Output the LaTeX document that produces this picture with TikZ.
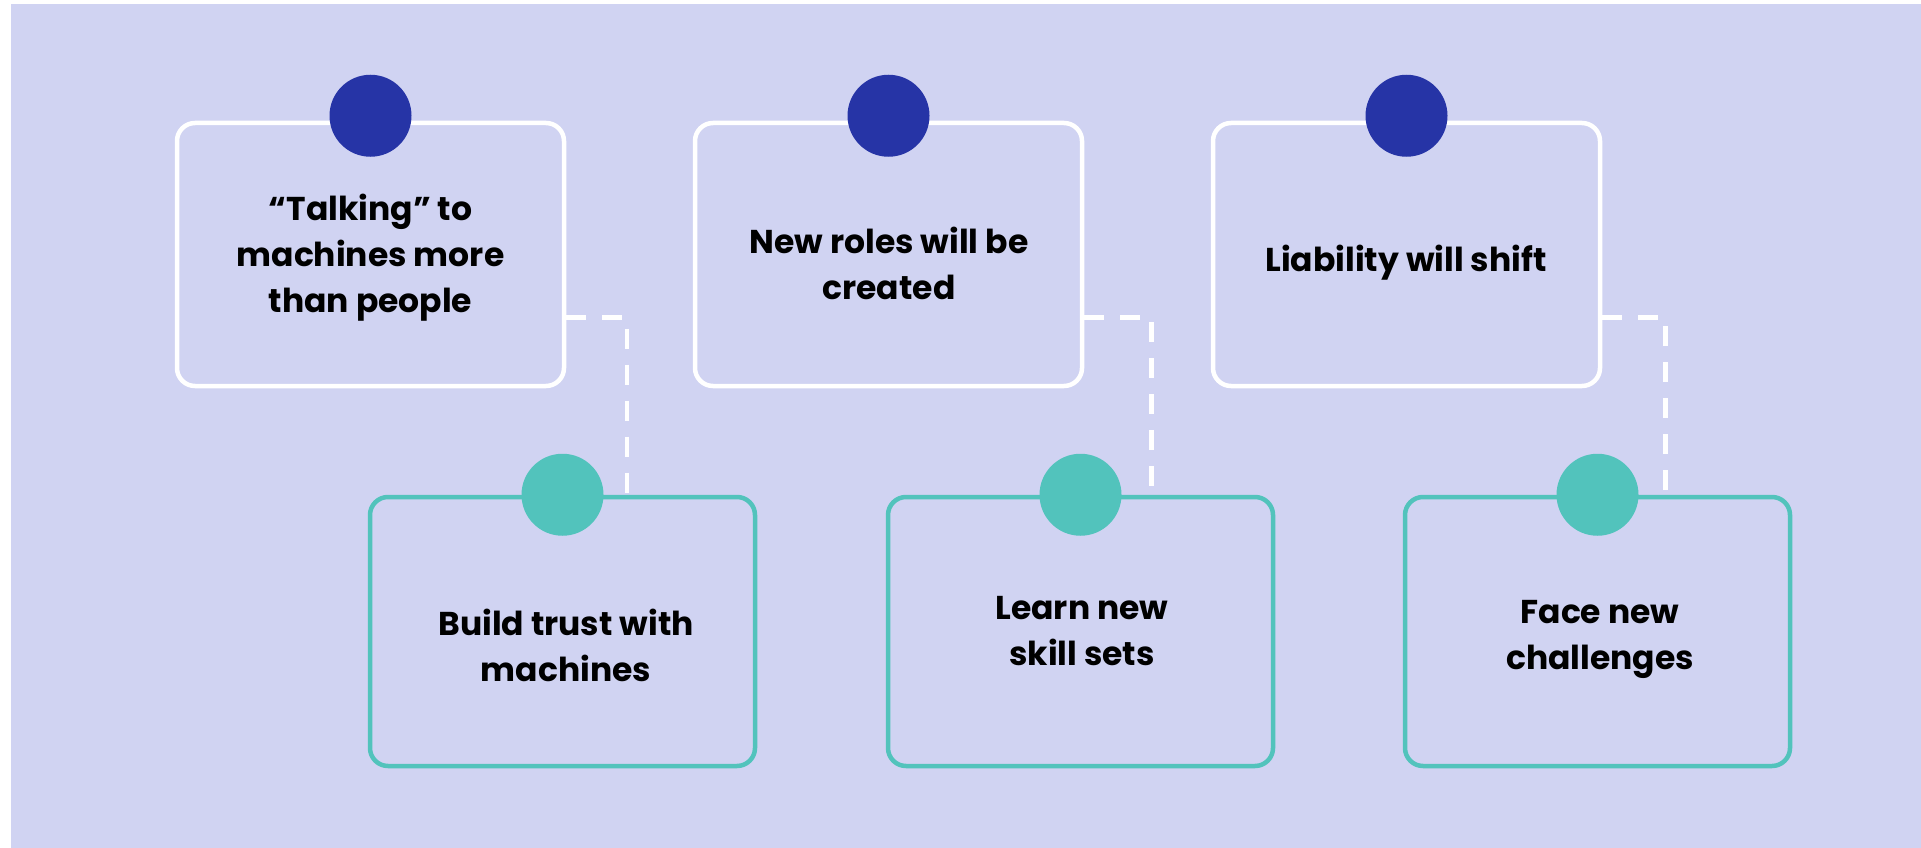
\documentclass[tikz,border=0pt]{standalone}
\usepackage{fontspec}
\setmainfont{Poppins}
\usetikzlibrary{calc}
\definecolor{bgc}{RGB}{208,211,242}
\definecolor{navy}{RGB}{38,52,166}
\definecolor{tealc}{RGB}{82,195,188}
\tikzset{
  topbox/.style={draw=white, line width=4.5pt, rounded corners=18pt, minimum width=387pt, minimum height=263pt, inner sep=0pt},
  botbox/.style={draw=tealc, line width=4.5pt, rounded corners=18pt, minimum width=385pt, minimum height=269pt, inner sep=0pt},
  topdot/.style={circle, fill=navy, minimum size=82pt, inner sep=0pt},
  botdot/.style={circle, fill=tealc, minimum size=82pt, inner sep=0pt},
  lbl/.style={anchor=base, align=center, inner sep=0pt, font=\fontsize{33}{46}\selectfont\bfseries, text=black},
  conn/.style={draw=white, line width=4.5pt, dash pattern=on 20pt off 16pt}
}
\begin{document}
\begin{tikzpicture}[x=1pt,y=-1pt]
\useasboundingbox (0,0) rectangle (1921,848);
\fill[bgc] (11,4) rectangle (1921,848);
% top boxes
\node[topbox] (t1) at (370.5,254.5) {};
\node[topbox] (t2) at (888.5,254.5) {};
\node[topbox] (t3) at (1406.5,254.5) {};
% bottom boxes
\node[botbox] (b1) at (562.5,631.5) {};
\node[botbox] (b2) at (1080.5,631.5) {};
\node[botbox] (b3) at (1597.5,631.5) {};
% connectors
\draw[conn] ($(t1.south east)+(0,-71)$) -| ($(b1.north)+(64.5,0)$);
\draw[conn] ($(t2.south east)+(0,-71)$) -| ($(b2.north)+(71,0)$);
\draw[conn] ($(t3.south east)+(0,-71)$) -| ($(b3.north)+(68,0)$);
% dots
\node[topdot] (c1) at ($(t1.north)+(0,-5)$) {};
\node[topdot] (c2) at ($(t2.north)+(0,-5)$) {};
\node[topdot] (c3) at ($(t3.north)+(0,-5)$) {};
\node[botdot] (d1) at (b1.north) {};
\node[botdot] (d2) at (b2.north) {};
\node[botdot] (d3) at (b3.north) {};
% labels (anchored at the baseline of the last line)
\node[lbl] (l1) at (370.5,312) {“Talking” to\\machines more\\than people};
\node[lbl] (l2) at (889,299) {New roles will be\\created};
\node[lbl] (l3) at (1406,271) {Liability will shift};
\node[lbl] (m1) at (566,681) {Build trust with\\machines};
\node[lbl] (m2) at (1082,665) {Learn new\\skill sets};
\node[lbl] (m3) at (1600,669) {Face new\\challenges};
\end{tikzpicture}
\end{document}
